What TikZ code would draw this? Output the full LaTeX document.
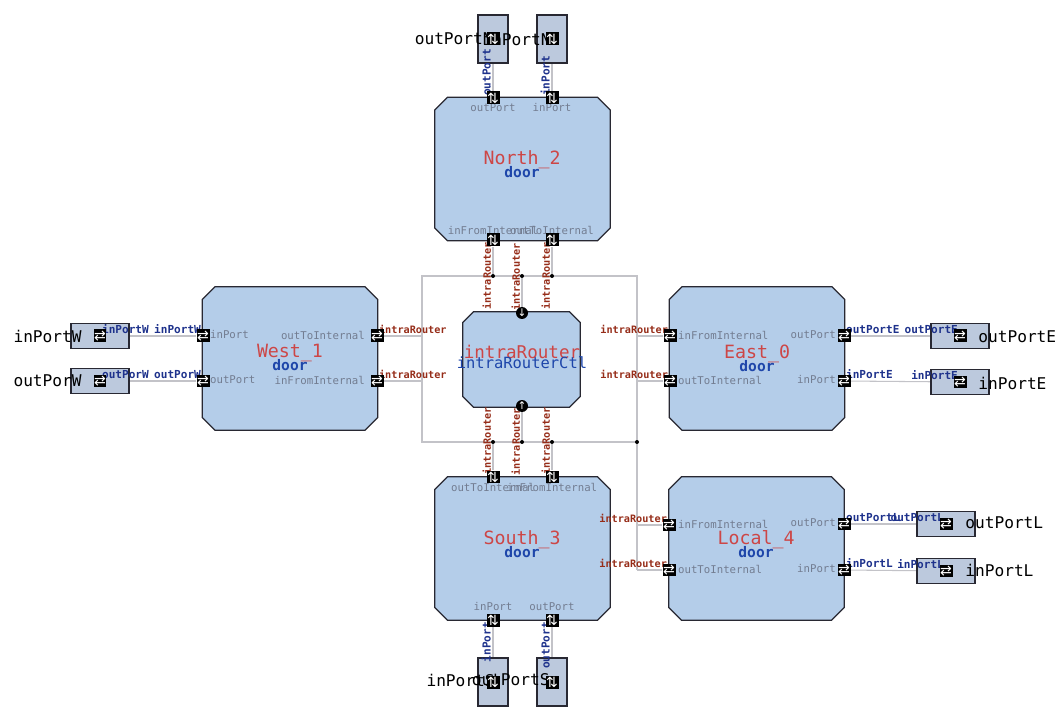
\documentclass[tikz,border=0pt]{standalone}
\usepackage{fontspec}
\setmonofont{DejaVu Sans Mono}
\newfontfamily\symfont{DejaVu Sans}

\definecolor{doorfill}{RGB}{180,205,233}
\definecolor{extfill}{RGB}{188,201,221}
\definecolor{boxline}{RGB}{40,40,50}
\definecolor{namered}{RGB}{205,70,70}
\definecolor{typeblue}{RGB}{30,70,170}
\definecolor{portgray}{RGB}{115,125,145}
\definecolor{wirered}{RGB}{150,45,25}
\definecolor{wireblue}{RGB}{30,50,140}
\definecolor{wiregray}{RGB}{195,195,200}

\pgfdeclarelayer{wires}
\pgfdeclarelayer{tags}
\pgfdeclarelayer{icons}
\pgfsetlayers{wires,main,tags,icons}

% chamfered outline round a named door node
\newcommand\doorshape[2]{%
  \draw[doorpath] ([xshift=#2]#1.north west) -- ([xshift=-#2]#1.north east)
    -- ([yshift=-#2]#1.north east) -- ([yshift=#2]#1.south east)
    -- ([xshift=-#2]#1.south east) -- ([xshift=#2]#1.south west)
    -- ([yshift=#2]#1.south west) -- ([yshift=-#2]#1.north west) -- cycle;}

\tikzset{
  door/.style={rectangle, inner sep=0pt, minimum width=3.5cm, minimum height=2.86cm},
  router/.style={door, minimum width=2.34cm, minimum height=1.9cm},
  doorpath/.style={draw=boxline, line width=0.7pt, fill=doorfill},
  extside/.style={draw=boxline, line width=0.6pt, fill=extfill, inner sep=0pt,
    minimum width=1.16cm, minimum height=0.5cm},
  extup/.style={extside, minimum width=0.6cm, minimum height=0.96cm},
  hport/.style={fill=black, text=white, inner sep=0pt, minimum size=0.26cm,
    font=\symfont\fontsize{8}{8}\selectfont},
  rport/.style={circle, fill=black, text=white, inner sep=0pt, minimum size=0.24cm,
    font=\symfont\fontsize{6}{6}\selectfont},
  jdot/.style={circle, fill=black, inner sep=0pt, minimum size=0.08cm},
  wire/.style={draw=wiregray, line width=0.6pt},
  doorname/.style={text=namered, font=\ttfamily\fontsize{10.4}{11}\selectfont},
  doortype/.style={text=typeblue, font=\ttfamily\bfseries\fontsize{8.3}{9}\selectfont},
  portname/.style={text=portgray, inner sep=1pt, font=\ttfamily\fontsize{6.1}{7}\selectfont},
  redtag/.style={text=wirered, inner sep=1pt, font=\ttfamily\bfseries\fontsize{5.8}{6}\selectfont},
  bluetag/.style={text=wireblue, inner sep=1pt, font=\ttfamily\bfseries\fontsize{6.3}{7}\selectfont},
  extname/.style={inner sep=0pt, font=\ttfamily\fontsize{9.2}{10}\selectfont}
}

\begin{document}
\begin{tikzpicture}[x=0.02cm, y=-0.02cm]
\useasboundingbox (0,0) rectangle (1055,709);

% Doors
\node[door] (north) at (522.5,169) {};
\doorshape{north}{0.26cm}
\node[door] (west) at (290,358.5) {};
\doorshape{west}{0.26cm}
\node[door] (east) at (757,358.5) {};
\doorshape{east}{0.26cm}
\node[door] (south) at (522.5,548.5) {};
\doorshape{south}{0.26cm}
\node[door] (local) at (756.5,548.5) {};
\doorshape{local}{0.26cm}
\node[router] (ctl) at (521.5,359.5) {};
\doorshape{ctl}{0.22cm}

% Door names
\node[doorname] (northN) at (522,160) {North\_2};
\node[doortype] (northT) at (522,172) {door};
\node[doorname] (westN) at (290,353) {West\_1};
\node[doortype] (westT) at (290,365) {door};
\node[doorname] (eastN) at (757,354) {East\_0};
\node[doortype] (eastT) at (757,366) {door};
\node[doorname] (southN) at (522,540) {South\_3};
\node[doortype] (southT) at (522,552) {door};
\node[doorname] (localN) at (756,540) {Local\_4};
\node[doortype] (localT) at (756,552) {door};
\node[doorname, font=\ttfamily\fontsize{10}{11}\selectfont] (ctlN) at (522,352) {intraRouter};
\node[doortype, font=\ttfamily\fontsize{8.8}{9}\selectfont] (ctlT) at (522,363) {intraRouterCtl};

% Port names inside the doors
\node[portname] (tNout) at (493,108) {outPort};
\node[portname] (tNin) at (552,108) {inPort};
\node[portname] (tNfrom) at (493,230) {inFromInternal};
\node[portname] (tNto) at (552,230) {outToInternal};
\node[portname, anchor=west] (tWin) at (208,335) {inPort};
\node[portname, anchor=west] (tWout) at (208,380) {outPort};
\node[portname, anchor=east] (tWto) at (367,335) {outToInternal};
\node[portname, anchor=east] (tWfrom) at (367,380) {inFromInternal};
\node[portname, anchor=west] (tEfrom) at (676,335) {inFromInternal};
\node[portname, anchor=west] (tEto) at (676,380) {outToInternal};
\node[portname, anchor=east] (tEout) at (838,335) {outPort};
\node[portname, anchor=east] (tEin) at (838,380) {inPort};
\node[portname, anchor=west] (tLfrom) at (676,524) {inFromInternal};
\node[portname, anchor=west] (tLto) at (676,569) {outToInternal};
\node[portname, anchor=east] (tLout) at (838,523) {outPort};
\node[portname, anchor=east] (tLin) at (838,569) {inPort};
\node[portname] (tSto) at (493,487) {outToInternal};
\node[portname] (tSfrom) at (552,487) {inFromInternal};
\node[portname] (tSin) at (493,607) {inPort};
\node[portname] (tSout) at (552,607) {outPort};

% External ports
\node[extside] (extW1) at (100,336) {};
\node[extside] (extW2) at (100,381) {};
\node[extside] (extE1) at (960,336) {};
\node[extside] (extE2) at (960,382) {};
\node[extside] (extL1) at (946,524) {};
\node[extside] (extL2) at (946,571) {};
\node[extup] (extN1) at (493,39) {};
\node[extup] (extN2) at (552,39) {};
\node[extup] (extS1) at (493,682) {};
\node[extup] (extS2) at (552,682) {};

\node[extname, anchor=east] (nW1) at (82,336) {inPortW};
\node[extname, anchor=east] (nW2) at (82,381) {outPorW};
\node[extname, anchor=west] (nE1) at (978,337) {outPortE};
\node[extname, anchor=west] (nE2) at (978,383) {inPortE};
\node[extname, anchor=west] (nL1) at (965,523) {outPortL};
\node[extname, anchor=west] (nL2) at (965,570) {inPortL};
\node[extname, anchor=east] (nN1) at (493,39) {outPortN};
\node[extname, anchor=east] (nN2) at (551,39) {inPortN};
\node[extname, anchor=east] (nS1) at (495,680) {inPortS};
\node[extname, anchor=east] (nS2) at (550,680) {outPortS};

% Port icons
\begin{pgfonlayer}{icons}
\node[hport] (iW1) at (extW1) {⇄};
\node[hport] (iW2) at (extW2) {⇄};
\node[hport] (iE1) at (extE1) {⇄};
\node[hport] (iE2) at (extE2) {⇄};
\node[hport] (iL1) at (extL1) {⇄};
\node[hport] (iL2) at (extL2) {⇄};
\node[hport] (iN1) at (extN1) {⇅};
\node[hport] (iN2) at (extN2) {⇅};
\node[hport] (iS1) at (extS1) {⇅};
\node[hport] (iS2) at (extS2) {⇅};
\node[hport] (pNout) at (493,98) {⇅};
\node[hport] (pNin) at (552,98) {⇅};
\node[hport] (pNfrom) at (493,240) {⇅};
\node[hport] (pNto) at (552,240) {⇅};
\node[hport] (pWin) at (203,336) {⇄};
\node[hport] (pWout) at (203,381) {⇄};
\node[hport] (pWto) at (377,336) {⇄};
\node[hport] (pWfrom) at (377,381) {⇄};
\node[hport] (pEfrom) at (670,336) {⇄};
\node[hport] (pEto) at (670,381) {⇄};
\node[hport] (pEout) at (844,336) {⇄};
\node[hport] (pEin) at (844,381) {⇄};
\node[hport] (pLfrom) at (669,525) {⇄};
\node[hport] (pLto) at (669,570) {⇄};
\node[hport] (pLout) at (844,524) {⇄};
\node[hport] (pLin) at (844,570) {⇄};
\node[hport] (pSto) at (493,477) {⇅};
\node[hport] (pSfrom) at (552,477) {⇅};
\node[hport] (pSin) at (493,620) {⇅};
\node[hport] (pSout) at (552,620) {⇅};
\node[rport] (rTop) at (522,313) {↓};
\node[rport] (rBot) at (522,406) {↑};
\end{pgfonlayer}

% Junctions of the internal bus
\coordinate (cTL) at (422,276);
\coordinate (cTR) at (637,276);
\coordinate (cBL) at (422,442);
\coordinate (cW1) at (422,336);
\coordinate (cW2) at (422,381);
\coordinate (cE1) at (637,336);
\coordinate (cE2) at (637,381);
\coordinate (cL1) at (637,525);
\coordinate (cL2) at (637,570);
\node[jdot] (jN1) at (493,276) {};
\node[jdot] (jN0) at (522,276) {};
\node[jdot] (jN2) at (552,276) {};
\node[jdot] (jS1) at (493,442) {};
\node[jdot] (jS0) at (522,442) {};
\node[jdot] (jS2) at (552,442) {};
\node[jdot] (jE) at (637,442) {};

% Wires
\begin{pgfonlayer}{wires}
\draw[wire] (cTL) -- (cTR) -- (jE.center) -- (cBL) -- cycle;
\draw[wire] (jE.center) -- (cL2);
\draw[wire] (pWto) -- (cW1);
\draw[wire] (pWfrom) -- (cW2);
\draw[wire] (cE1) -- (pEfrom);
\draw[wire] (cE2) -- (pEto);
\draw[wire] (cL1) -- (pLfrom);
\draw[wire] (cL2) -- (pLto);
\draw[wire] (pNfrom) -- (jN1);
\draw[wire] (pNto) -- (jN2);
\draw[wire] (rTop) -- (jN0);
\draw[wire] (rBot) -- (jS0);
\draw[wire] (jS1) -- (pSto);
\draw[wire] (jS2) -- (pSfrom);
\draw[wire] (extW1) -- (pWin);
\draw[wire] (extW2) -- (pWout);
\draw[wire] (pEout) -- (extE1);
\draw[wire] (pEin) -- (extE2);
\draw[wire] (pLout) -- (extL1);
\draw[wire] (pLin) -- (extL2);
\draw[wire] (extN1) -- (pNout);
\draw[wire] (extN2) -- (pNin);
\draw[wire] (pSin) -- (extS1);
\draw[wire] (pSout) -- (extS2);
\end{pgfonlayer}

% Wire labels
\begin{pgfonlayer}{tags}
\node[bluetag, anchor=south west] (gW1a) at (iW1.center) {inPortW};
\node[bluetag, anchor=south east] (gW1b) at (pWin.center) {inPortW};
\node[bluetag, anchor=south west] (gW2a) at (iW2.center) {outPorW};
\node[bluetag, anchor=south east] (gW2b) at (pWout.center) {outPorW};
\node[bluetag, anchor=south west] (gE1a) at (pEout.center) {outPortE};
\node[bluetag, anchor=south east] (gE1b) at (iE1.center) {outPortE};
\node[bluetag, anchor=south west] (gE2a) at (pEin.center) {inPortE};
\node[bluetag, anchor=south east] (gE2b) at (iE2.center) {inPortE};
\node[bluetag, anchor=south west] (gL1a) at (pLout.center) {outPortL};
\node[bluetag, anchor=south east] (gL1b) at (iL1.center) {outPortL};
\node[bluetag, anchor=south west] (gL2a) at (pLin.center) {inPortL};
\node[bluetag, anchor=south east] (gL2b) at (iL2.center) {inPortL};
\node[bluetag, rotate=90, anchor=south west] (gN1) at (pNout.center) {outPort};
\node[bluetag, rotate=90, anchor=south west] (gN2) at (pNin.center) {inPort};
\node[bluetag, rotate=90, anchor=south east] (gS1) at (pSin.center) {inPort};
\node[bluetag, rotate=90, anchor=south east] (gS2) at (pSout.center) {outPort};
\node[redtag, anchor=south west] (gWto) at (pWto.center) {intraRouter};
\node[redtag, anchor=south west] (gWfrom) at (pWfrom.center) {intraRouter};
\node[redtag, anchor=south east] (gEfrom) at (pEfrom.center) {intraRouter};
\node[redtag, anchor=south east] (gEto) at (pEto.center) {intraRouter};
\node[redtag, anchor=south east] (gLfrom) at (pLfrom.center) {intraRouter};
\node[redtag, anchor=south east] (gLto) at (pLto.center) {intraRouter};
\node[redtag, rotate=90, anchor=south east] (gNfrom) at (pNfrom.center) {intraRouter};
\node[redtag, rotate=90, anchor=south east] (gNto) at (pNto.center) {intraRouter};
\node[redtag, rotate=90, anchor=south west] (gTop) at (rTop.center) {intraRouter};
\node[redtag, rotate=90, anchor=south east] (gBot) at (rBot.center) {intraRouter};
\node[redtag, rotate=90, anchor=south west] (gSto) at (pSto.center) {intraRouter};
\node[redtag, rotate=90, anchor=south west] (gSfrom) at (pSfrom.center) {intraRouter};
\end{pgfonlayer}
\end{tikzpicture}
\end{document}
